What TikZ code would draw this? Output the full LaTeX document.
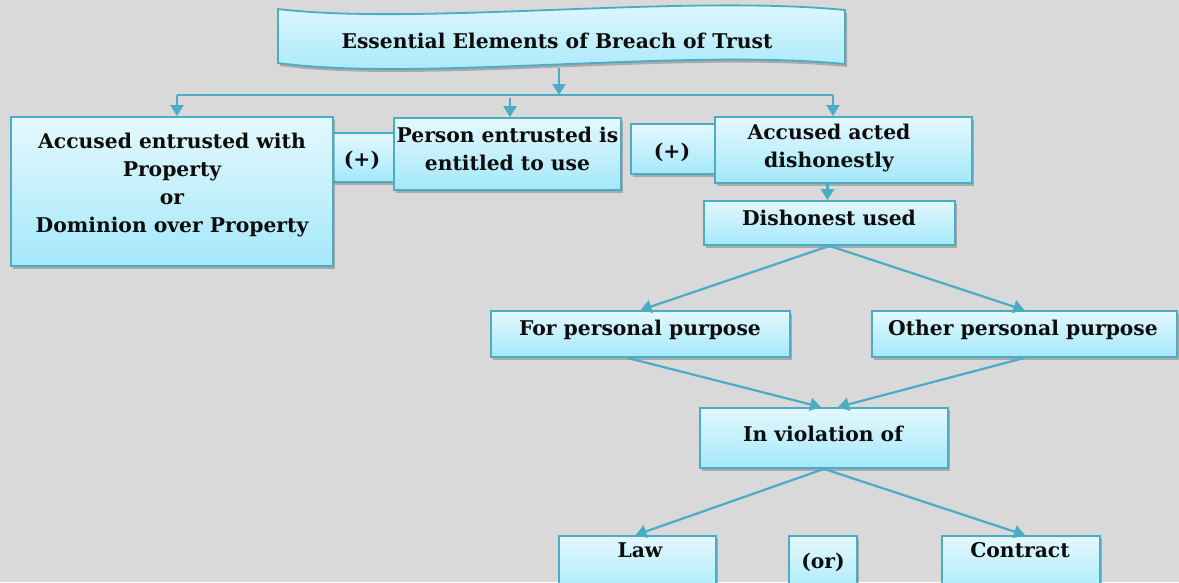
\documentclass[tikz,border=0pt]{standalone}
\usepackage{fontspec}
\setmainfont{DejaVu Serif}
\usetikzlibrary{arrows.meta,shadows,calc}
\definecolor{bg}{RGB}{217,217,217}
\definecolor{edge}{RGB}{75,172,198}
\definecolor{filltop}{RGB}{228,248,253}
\definecolor{fillbot}{RGB}{164,232,250}
\begin{document}
\begin{tikzpicture}[x=1pt,y=-1pt,
  box/.style={draw=edge, line width=1.8pt, top color=filltop, bottom color=fillbot,
    inner sep=0pt, drop shadow={shadow xshift=2pt, shadow yshift=-3pt, fill=black, opacity=0.22}},
  lbl/.style={font=\fontsize{20.3}{28}\selectfont\bfseries, align=center, inner sep=0pt, text=black!95},
  link/.style={draw=edge, line width=2.2pt, -{Triangle[width=13pt,length=11pt]}},
  bus/.style={draw=edge, line width=2.2pt}
]
% canvas
\fill[bg] (0,0) rectangle (1179,582);
\useasboundingbox (0,0) rectangle (1179,582);
\clip (0,0) rectangle (1179,582);

% wavy title banner
\path[draw=edge, line width=1.8pt, top color=filltop, bottom color=fillbot,
      drop shadow={shadow xshift=2pt, shadow yshift=-3pt, fill=black, opacity=0.22}]
  (278,9) .. controls (420,26) and (680,-6) .. (845,10)
  -- (845,64) .. controls (680,48) and (420,82) .. (278,63) -- cycle;
\node[lbl, anchor=base] (title) at (557,48) {Essential Elements of Breach of Trust};
\coordinate (tbot) at (559,68);

% "(+)" joints sit behind the neighbouring boxes
\node[box, minimum width=62pt, minimum height=49pt] (plusA) at (364,157.5) {};
\node[box, minimum width=85pt, minimum height=50pt] (plusB) at (673.5,149) {};

% first row
\node[box, minimum width=322pt, minimum height=149pt] (left) at (172,191.5) {};
\node[box, minimum width=227pt, minimum height=72pt] (mid) at (507.5,154) {};
\node[box, minimum width=257pt, minimum height=66pt] (right) at (843.5,150) {};

% lower boxes
\node[box, minimum width=251pt, minimum height=44pt] (dish) at (829.5,223) {};
\node[box, minimum width=299pt, minimum height=46pt] (forp) at (640.5,334) {};
\node[box, minimum width=305pt, minimum height=46pt] (other) at (1024.5,334) {};
\node[box, minimum width=248pt, minimum height=60pt] (viol) at (824,438) {};
\node[box, minimum width=157pt, minimum height=64pt] (law) at (637.5,568) {};
\node[box, minimum width=68pt, minimum height=64pt] (orbox) at (823,568) {};
\node[box, minimum width=158pt, minimum height=64pt] (contract) at (1021,568) {};

% labels
\node[lbl] (left-t) at (172,185) {Accused entrusted with\\Property\\or\\Dominion over Property};
\node[lbl, anchor=base] (plusA-t) at (362,166) {(+)};
\node[lbl] (mid-t) at (507.5,148.5) {Person entrusted is\\entitled to use};
\node[lbl, anchor=base] (plusB-t) at (672,158) {(+)};
\node[lbl] (right-t) at (829,148) {Accused acted\\dishonestly};
\node[lbl, anchor=base] (dish-t) at (829,225) {Dishonest used};
\node[lbl, anchor=base] (forp-t) at (640,335) {For personal purpose};
\node[lbl, anchor=base] (other-t) at (1023,335) {Other personal purpose};
\node[lbl, anchor=base] (viol-t) at (823,441) {In violation of};
\node[lbl, anchor=base] (law-t) at (640,557) {Law};
\node[lbl, anchor=base] (orbox-t) at (823,568) {(or)};
\node[lbl, anchor=base] (contract-t) at (1020,557) {Contract};

% distribution bar under the title
\coordinate (busL) at (177,95);
\coordinate (busR) at (833,95);
\coordinate (busM) at (510,98);
\draw[link] (tbot) -- (tbot |- busL);
\draw[bus] (busL) -- (busR);
\draw[link] (busL) -- (busL |- left.north);
\draw[link] (busM) -- (busM |- mid.north);
\draw[link] (busR) -- (busR |- right.north);

% flow below
\draw[link] ($(right.south)+(-16,0)$) -- ($(dish.north)+(-2,0)$);
\draw[link] (dish.south) -- (forp.north);
\draw[link] (dish.south) -- (other.north);
\draw[link] ($(forp.south)+(-13,0)$) -- ($(viol.north)+(-3,0)$);
\draw[link] (other.south) -- ($(viol.north)+(14,0)$);
\draw[link] (viol.south) -- ($(law.north)+(-2,0)$);
\draw[link] (viol.south) -- ($(contract.north)+(4,0)$);
\end{tikzpicture}
\end{document}
